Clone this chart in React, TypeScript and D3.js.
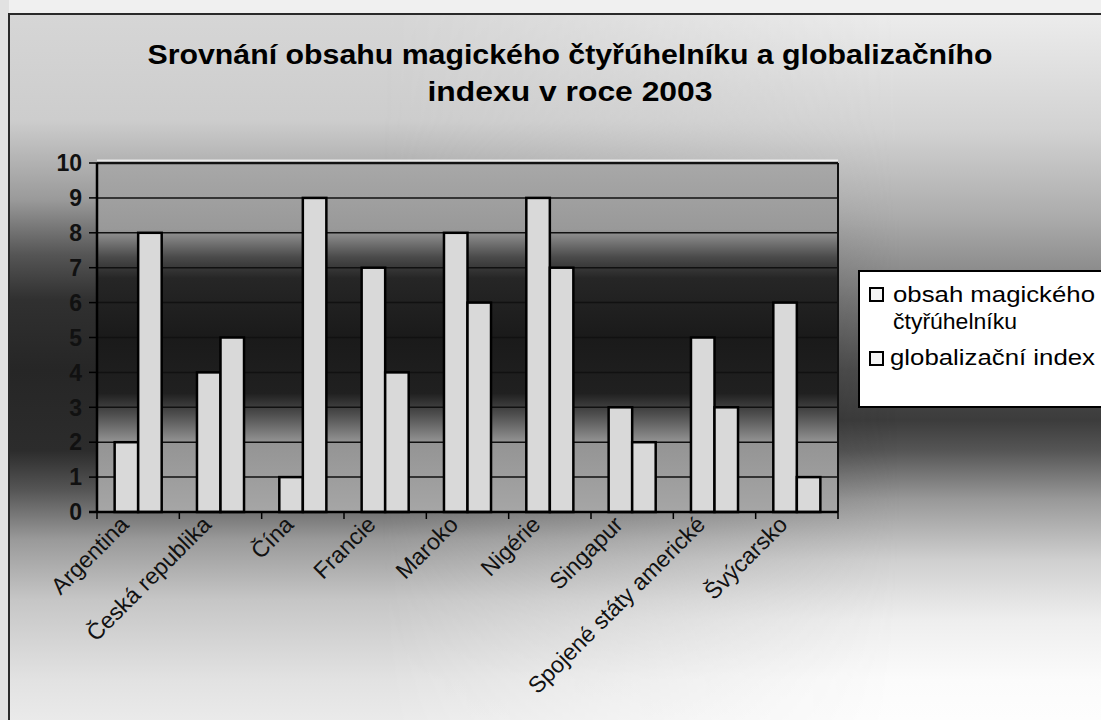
import React from "react";
import * as d3 from "d3";

const categories = [
  "Argentina",
  "Česká republika",
  "Čína",
  "Francie",
  "Maroko",
  "Nigérie",
  "Singapur",
  "Spojené státy americké",
  "Švýcarsko",
];
const seriesNames = ["obsah magického čtyřúhelníku", "globalizační index"];
const legendLines = [["obsah magického", "čtyřúhelníku"], ["globalizační index"]];
const obsahMagickehoCtyruhelniku = [2, 4, 1, 7, 8, 9, 3, 5, 6];
const globalizacniIndex = [8, 5, 9, 4, 6, 7, 2, 3, 1];
const yTicks = [0, 1, 2, 3, 4, 5, 6, 7, 8, 9, 10];
const titleLines = [
  "Srovnání obsahu magického čtyřúhelníku a globalizačního",
  "indexu v roce 2003",
];

const W = 1101;
const H = 720;
const plot = { left: 97, right: 838, top: 163, bottom: 512 };

const leftStops: [number, string][] = [
  [0, "#d6d6d6"],
  [0.15, "#cdcdcd"],
  [0.263, "#9a9a9a"],
  [0.341, "#555555"],
  [0.405, "#303030"],
  [0.504, "#262626"],
  [0.618, "#2c2c2c"],
  [0.674, "#555555"],
  [0.745, "#9a9a9a"],
  [0.83, "#c6c6c6"],
  [0.943, "#e2e2e2"],
  [1, "#eaeaea"],
];
const rightStops: [number, string][] = [
  [0, "#ececec"],
  [0.164, "#d2d2d2"],
  [0.292, "#aaaaaa"],
  [0.405, "#7a7a7a"],
  [0.504, "#4e4e4e"],
  [0.575, "#3c3c3c"],
  [0.618, "#555555"],
  [0.688, "#999999"],
  [0.773, "#cfcfcf"],
  [0.858, "#eeeeee"],
  [0.943, "#fbfbfb"],
  [1, "#fdfdfd"],
];

export default function App() {
  const x = d3
    .scaleBand<string>()
    .domain(categories)
    .range([plot.left, plot.right])
    .paddingInner(0)
    .paddingOuter(0);
  const bw = x.bandwidth();
  const gap = bw * (1.5 / 3.5);
  const xs = d3
    .scaleBand<number>()
    .domain([0, 1])
    .range([gap / 2, bw - gap / 2])
    .padding(0);
  const y = d3.scaleLinear().domain([0, 10]).range([plot.bottom, plot.top]);
  const series = [obsahMagickehoCtyruhelniku, globalizacniIndex];
  const font = "'Liberation Sans', Arial, Helvetica, sans-serif";
  const boundaries = d3.range(categories.length + 1).map((i) =>
    i < categories.length ? (x(categories[i]) as number) : plot.right
  );
  const legendWidths = [[202, 124], [205]];

  return (
    <svg
      width={W}
      height={H}
      style={{ position: "absolute", left: 0, top: 0, display: "block" }}
      fontFamily={font}
    >
      <defs>
        <linearGradient id="bgL" gradientUnits="userSpaceOnUse" x1={0} y1={14} x2={0} y2={720}>
          {leftStops.map(([o, c], i) => (
            <stop key={i} offset={o} stopColor={c} />
          ))}
        </linearGradient>
        <linearGradient id="bgR" gradientUnits="userSpaceOnUse" x1={0} y1={14} x2={0} y2={720}>
          {rightStops.map(([o, c], i) => (
            <stop key={i} offset={o} stopColor={c} />
          ))}
        </linearGradient>
        <linearGradient id="hmask" gradientUnits="userSpaceOnUse" x1={380} y1={0} x2={900} y2={0}>
          <stop offset="0" stopColor="#000" />
          <stop offset="1" stopColor="#fff" />
        </linearGradient>
        <mask id="rightMask" maskUnits="userSpaceOnUse" x={0} y={0} width={W} height={H}>
          <rect x={0} y={0} width={W} height={H} fill="url(#hmask)" />
        </mask>
        <linearGradient id="plotbg" x1="0" y1="0" x2="0" y2="1">
          <stop offset="0" stopColor="#a8a8a8" />
          <stop offset="0.19" stopColor="#999999" />
          <stop offset="0.27" stopColor="#4a4a4a" />
          <stop offset="0.33" stopColor="#262626" />
          <stop offset="0.5" stopColor="#1a1a1a" />
          <stop offset="0.66" stopColor="#202020" />
          <stop offset="0.72" stopColor="#4e4e4e" />
          <stop offset="0.8" stopColor="#949494" />
          <stop offset="1" stopColor="#a6a6a6" />
        </linearGradient>
      </defs>

      {/* page background */}
      <rect x={0} y={0} width={W} height={H} fill="#f0f0f0" />
      <rect x={0} y={0} width={9} height={H} fill="#e2e2e2" />
      {/* chart area */}
      <rect x={9} y={14} width={W + 10} height={H + 10} fill="url(#bgL)" />
      <rect x={9} y={14} width={W + 10} height={H + 10} fill="url(#bgR)" mask="url(#rightMask)" />
      <rect
        x={9}
        y={14}
        width={W + 10}
        height={H + 10}
        fill="none"
        stroke="#2a2a2a"
        strokeWidth={2}
      />

      {/* title */}
      {titleLines.map((t, i) => (
        <text
          key={i}
          x={570}
          y={64 + i * 37}
          textAnchor="middle"
          fontWeight="bold"
          fontSize={27}
          fill="#000"
          textLength={i === 0 ? 845 : 285}
          lengthAdjust="spacingAndGlyphs"
        >
          {t}
        </text>
      ))}

      {/* plot area */}
      <rect
        x={plot.left}
        y={plot.top}
        width={plot.right - plot.left}
        height={plot.bottom - plot.top}
        fill="url(#plotbg)"
      />

      {/* gridlines */}
      {yTicks
        .filter((t) => t > 0)
        .map((t) => (
          <line
            key={t}
            x1={plot.left}
            x2={plot.right}
            y1={y(t)}
            y2={y(t)}
            stroke="#111"
            strokeWidth={t === 10 ? 2.5 : 1.5}
          />
        ))}
      <line
        x1={plot.left}
        x2={plot.right}
        y1={y(10) - 2.5}
        y2={y(10) - 2.5}
        stroke="#fff"
        strokeOpacity={0.7}
        strokeWidth={2}
      />
      <line
        x1={plot.right}
        x2={plot.right}
        y1={plot.top}
        y2={plot.bottom}
        stroke="#111"
        strokeWidth={2}
      />

      {/* bars */}
      {categories.map((c, i) => (
        <g key={c} transform={`translate(${x(c)},0)`}>
          {series.map((s, j) => (
            <rect
              key={j}
              x={xs(j) as number}
              y={y(s[i])}
              width={xs.bandwidth()}
              height={y(0) - y(s[i])}
              fill="#d9d9d9"
              stroke="#000"
              strokeWidth={2.5}
            />
          ))}
        </g>
      ))}

      {/* axes */}
      <line
        x1={plot.left}
        x2={plot.left}
        y1={plot.top}
        y2={plot.bottom}
        stroke="#000"
        strokeWidth={2.5}
      />
      <line
        x1={plot.left - 8}
        x2={plot.right}
        y1={plot.bottom}
        y2={plot.bottom}
        stroke="#000"
        strokeWidth={2.5}
      />
      {yTicks.map((t) => (
        <g key={t}>
          <line
            x1={plot.left - 8}
            x2={plot.left}
            y1={y(t)}
            y2={y(t)}
            stroke="#000"
            strokeWidth={1.5}
          />
          <text
            x={82}
            y={y(t)}
            dy="0.36em"
            textAnchor="end"
            fontWeight="bold"
            fontSize={23}
            fill="#111"
          >
            {t}
          </text>
        </g>
      ))}
      {boundaries.map((b, i) => (
        <line
          key={i}
          x1={b}
          x2={b}
          y1={plot.bottom}
          y2={plot.bottom + 7}
          stroke="#000"
          strokeWidth={1.5}
        />
      ))}
      {categories.map((c) => {
        const cx = (x(c) as number) + bw / 2;
        return (
          <text
            key={c}
            transform={`translate(${cx - 8},${plot.bottom + 14}) rotate(-45)`}
            textAnchor="end"
            fontSize={23}
            fill="#111"
          >
            {c}
          </text>
        );
      })}

      {/* legend */}
      <rect
        x={859}
        y={271}
        width={260}
        height={136}
        fill="#fff"
        stroke="#000"
        strokeWidth={2}
      />
      {seriesNames.map((name, si) => {
        const sy = si === 0 ? 288 : 352;
        const by = si === 0 ? 302 : 365;
        return (
          <g key={name}>
            <rect x={870} y={sy} width={13} height={13} fill="#f4f4f4" stroke="#000" strokeWidth={2} />
            {legendLines[si].map((ln, li) => (
              <text
                key={li}
                x={si === 0 ? 893 : 890}
                y={by + li * 27}
                fontSize={22}
                fill="#000"
                textLength={legendWidths[si][li]}
                lengthAdjust="spacingAndGlyphs"
              >
                {ln}
              </text>
            ))}
          </g>
        );
      })}
    </svg>
  );
}
